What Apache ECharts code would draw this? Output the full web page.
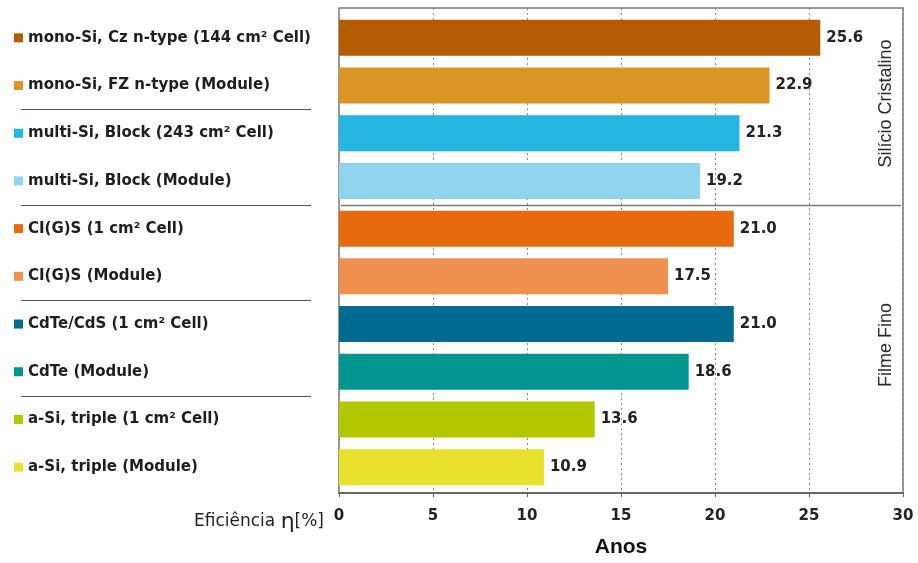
<!DOCTYPE html>
<html>
<head>
<meta charset="utf-8">
<script src="https://cdn.jsdelivr.net/npm/echarts@6/dist/echarts.min.js"></script>
<style>
  html, body { margin: 0; padding: 0; background: #fff; }
  #chart { width: 918px; height: 563px; }
</style>
</head>
<body>
<div id="chart"></div>
<script>
// Record efficiencies of PV technologies (cells and modules)
const categories = [
  'mono-Si, Cz n-type (144 cm² Cell)',
  'mono-Si, FZ n-type (Module)',
  'multi-Si, Block (243 cm² Cell)',
  'multi-Si, Block (Module)',
  'CI(G)S (1 cm² Cell)',
  'CI(G)S (Module)',
  'CdTe/CdS (1 cm² Cell)',
  'CdTe (Module)',
  'a-Si, triple (1 cm² Cell)',
  'a-Si, triple (Module)'
];
const efficiency = [25.6, 22.9, 21.3, 19.2, 21.0, 17.5, 21.0, 18.6, 13.6, 10.9];
const barColors = [
  '#b45c04', '#dc9424', '#22b6e0', '#8fd4ec', '#e96b10',
  '#ef904f', '#006b91', '#00968f', '#b1c800', '#e8e22c'
];
const xTicks = [0, 5, 10, 15, 20, 25, 30];
// Category groups: [first index, last index, label]
const groups = [
  [0, 3, 'Silício Cristalino'],
  [4, 9, 'Filme Fino']
];
// Separator lines in the label column (after these indices)
const labelSeparators = [1, 3, 5, 7];

const chart = echarts.init(document.getElementById('chart'));

const rich = {
  t: { fontFamily: 'DejaVu Sans', fontWeight: 'bold', fontSize: 15, color: '#1e1e1e',
       padding: [0, 0, 0, 5], verticalAlign: 'middle' }
};
barColors.forEach((c, i) => {
  rich['s' + i] = { width: 9, height: 9, backgroundColor: c, verticalAlign: 'middle' };
});

const option = {
  animation: false,
  backgroundColor: '#fff',
  grid: [
    { left: 339, right: 15, top: 8, bottom: 65, show: true, borderColor: '#7a7a7a', borderWidth: 1.5 },
    { left: 339, right: 15, top: 14, bottom: 72 }
  ],
  xAxis: [
    {
      gridIndex: 0, type: 'value', min: xTicks[0], max: xTicks[xTicks.length - 1], interval: 5,
      name: 'Anos', nameLocation: 'middle', nameGap: 44,
      nameTextStyle: { fontFamily: 'Liberation Sans', fontWeight: 'bold', fontSize: 21, color: '#111' },
      axisLine: { show: true, lineStyle: { color: '#666', width: 2 } },
      axisTick: { show: true, length: 4, lineStyle: { color: '#666' } },
      axisLabel: { margin: 16, fontFamily: 'DejaVu Sans', fontWeight: 'bold', fontSize: 15, color: '#222' },
      splitLine: { show: true, lineStyle: { color: '#8a8a8a', type: [2, 3], width: 1 } }
    },
    {
      gridIndex: 1, type: 'value', min: xTicks[0], max: xTicks[xTicks.length - 1],
      show: false, splitLine: { show: false }
    }
  ],
  yAxis: [
    { gridIndex: 0, type: 'value', show: false, splitLine: { show: false } },
    {
      gridIndex: 1, type: 'category', data: categories, inverse: true,
      axisLine: { show: false }, axisTick: { show: false },
      axisLabel: {
        align: 'left', margin: 325,
        formatter: (v, i) => `{s${i}| }{t|${v}}`,
        rich: rich
      }
    }
  ],
  series: [{
    type: 'bar', xAxisIndex: 1, yAxisIndex: 1,
    data: efficiency.map((v, i) => ({ value: v, itemStyle: { color: barColors[i] } })),
    barWidth: 36,
    label: {
      show: true, position: 'right', distance: 6,
      formatter: p => p.value.toFixed(1),
      fontFamily: 'DejaVu Sans', fontWeight: 'bold', fontSize: 15, color: '#222'
    }
  }]
};
chart.setOption(option);

// Decorations placed from the category axis positions
const yAt = i => chart.convertToPixel({ yAxisIndex: 1 }, i);
const between = i => (yAt(i) + yAt(i + 1)) / 2;
const graphics = [];
labelSeparators.forEach(i => {
  const y = Math.round(between(i)) + 0.5;
  graphics.push({ type: 'line', shape: { x1: 21, y1: y, x2: 311, y2: y },
                  style: { stroke: '#555', lineWidth: 1.2 } });
});
const xLeft = chart.convertToPixel({ xAxisIndex: 0 }, 0);
const xRight = chart.convertToPixel({ xAxisIndex: 0 }, 30);
const ySplit = Math.round(between(groups[0][1])) + 0.5;
graphics.push({ type: 'line', shape: { x1: xLeft + 2, y1: ySplit, x2: xRight - 2, y2: ySplit },
                style: { stroke: '#777', lineWidth: 1.5 } });
groups.forEach((g, k) => {
  const yc = (yAt(g[0]) + yAt(g[1])) / 2 - (k === 0 ? 6 : 3);
  graphics.push({ type: 'text', x: xRight - 17, y: yc, rotation: Math.PI / 2,
                  style: { text: g[2], fontFamily: 'Liberation Sans', fontSize: 18, fill: '#2a2a2a',
                           align: 'center', verticalAlign: 'middle' } });
});
graphics.push({ type: 'text', x: xLeft - 15, y: 522,
                style: { text: '{a|Eficiência }{b|η}{c|[%]}', align: 'right', verticalAlign: 'middle',
                         rich: {
                           a: { fontFamily: 'DejaVu Sans', fontSize: 17, fill: '#222', verticalAlign: 'middle' },
                           b: { fontFamily: 'DejaVu Sans', fontSize: 22, fill: '#222', verticalAlign: 'middle' },
                           c: { fontFamily: 'DejaVu Sans', fontSize: 17, fill: '#222', verticalAlign: 'middle' }
                         } } });
chart.setOption({ graphic: graphics });
</script>
</body>
</html>
